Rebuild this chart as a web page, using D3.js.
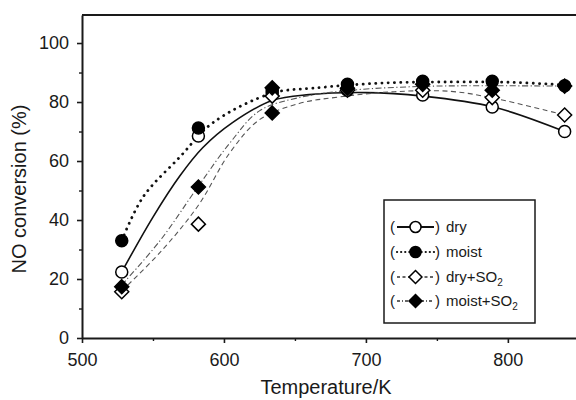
<!DOCTYPE html>
<html>
<head>
<meta charset="utf-8">
<script src="https://cdn.jsdelivr.net/npm/d3@7"></script>
<style>
  html, body { margin: 0; padding: 0; background: #fff; }
  svg { display: block; font-family: "Liberation Sans", Arial, Helvetica, sans-serif; }
</style>
</head>
<body>
<svg id="chart" width="576" height="400"></svg>
<script>
// ---------- data ----------
const temps = [528, 582, 634, 687, 740, 789, 840];
const dry = [22.4, 68.5, 83, 84, 82.4, 78.3, 70];
const moist = [33, 71.2, 84, 86, 87, 87, 85.5];
const drySO2 = [15.7, 38.6, 82, 84, 84, 81.5, 75.6];
const moistSO2 = [17.4, 51.2, 76.3, 84.7, 86, 84, 85.4];
// second filled diamond visible at 634 K
const moistSO2RepeatT = [634];
const moistSO2RepeatV = [84.8];

// fitted guide curves
const dryFitT = [528, 550, 569, 585, 606, 634, 660, 700, 740, 790, 840];
const dryFitV = [22.4, 41, 55, 64.5, 73, 80.5, 82.5, 83.2, 82, 78.3, 70];
const moistFitT = [528, 543, 569, 592, 634, 663, 710, 760, 800, 840];
const moistFitV = [33, 47.8, 61.4, 72.9, 83, 84.7, 86.4, 86.8, 86.7, 85.8];
const drySO2FitT = [528, 555, 582, 604, 625, 653, 681, 720, 760, 790, 840];
const drySO2FitV = [16, 29, 45, 62.7, 74, 79.5, 81.7, 83.5, 83.6, 81.3, 75.6];
const moistSO2FitT = [528, 555, 582, 604, 625, 653, 690, 740, 790, 840];
const moistSO2FitV = [18, 33, 51.5, 66, 77, 81.5, 84, 85.3, 85.5, 85.4];

const xMajor = [500, 600, 700, 800];
const xMinor = [550, 650, 750];
const yMajor = [0, 20, 40, 60, 80, 100];
const yMinor = [10, 30, 50, 70, 90];

const legendLabels = ["dry", "moist", "dry+SO", "moist+SO"];
const legendSub = ["", "", "2", "2"];

// ---------- drawing ----------
const svg = d3.select("#chart");
const mLeft = 82, mRight = 576, mTop = 15, mBottom = 338;

const x = d3.scaleLinear().domain([500, 848]).range([mLeft, mRight]);
const y = d3.scaleLinear().domain([0, 109.5]).range([mBottom, mTop]);

const ink = "#1a1a1a";

// frame: top line
svg.append("line")
  .attr("x1", mLeft).attr("x2", mRight).attr("y1", mTop).attr("y2", mTop)
  .attr("stroke", ink).attr("stroke-width", 2);

function styleAxis(g) {
  g.selectAll("path.domain").attr("stroke", ink).attr("stroke-width", 2);
  g.selectAll(".tick line").attr("stroke", ink).attr("stroke-width", 1.6);
  g.selectAll(".tick text").attr("fill", ink)
    .style("font-family", "'Liberation Sans', Arial, sans-serif");
}

const gx = svg.append("g").attr("transform", `translate(0,${mBottom})`)
  .call(d3.axisBottom(x).tickValues(xMajor).tickSize(5).tickPadding(10).tickSizeOuter(0))
  .call(g => g.selectAll(".tick text").attr("font-size", 18));
styleAxis(gx);
svg.append("g").attr("transform", `translate(0,${mBottom})`)
  .call(d3.axisBottom(x).tickValues(xMinor).tickSize(3).tickFormat("").tickSizeOuter(0))
  .call(g => g.select("path.domain").remove())
  .call(g => g.selectAll(".tick line").attr("stroke", ink).attr("stroke-width", 1.4));

const gy = svg.append("g").attr("transform", `translate(${mLeft},0)`)
  .call(d3.axisLeft(y).tickValues(yMajor).tickSize(5).tickPadding(8).tickSizeOuter(0))
  .call(g => g.selectAll(".tick text").attr("font-size", 18));
styleAxis(gy);
svg.append("g").attr("transform", `translate(${mLeft},0)`)
  .call(d3.axisLeft(y).tickValues(yMinor).tickSize(3).tickFormat("").tickSizeOuter(0))
  .call(g => g.select("path.domain").remove())
  .call(g => g.selectAll(".tick line").attr("stroke", ink).attr("stroke-width", 1.4));

// axis titles
svg.append("text")
  .attr("x", 326).attr("y", 394)
  .attr("text-anchor", "middle").attr("font-size", 20).attr("fill", ink)
  .text("Temperature/K");
svg.append("text")
  .attr("transform", "translate(26,189) rotate(-90)")
  .attr("text-anchor", "middle").attr("font-size", 20).attr("fill", ink)
  .text("NO conversion (%)");

// series styles
const styles = [
  { dash: null, width: 1.6, color: "#111", cap: "butt" },
  { dash: "0.1 6.2", width: 2.8, color: "#111", cap: "round" },
  { dash: "5 3.5", width: 1.1, color: "#555", cap: "butt" },
  { dash: "6 2.5 1.2 2.5", width: 1.1, color: "#555", cap: "butt" }
];

const fits = [
  [dryFitT, dryFitV], [moistFitT, moistFitV],
  [drySO2FitT, drySO2FitV], [moistSO2FitT, moistSO2FitV]
];

const line = d3.line()
  .x(d => x(d[0])).y(d => y(d[1]))
  .curve(d3.curveCatmullRom.alpha(0.5));

fits.forEach((f, i) => {
  const pts = f[0].map((t, k) => [t, f[1][k]]);
  svg.append("path")
    .attr("d", line(pts))
    .attr("fill", "none")
    .attr("stroke", styles[i].color)
    .attr("stroke-width", styles[i].width)
    .attr("stroke-linecap", styles[i].cap)
    .attr("stroke-dasharray", styles[i].dash);
});

function drawMarker(g, kind, cx, cy, scale) {
  const s = scale || 1;
  if (kind === 0 || kind === 1) {
    g.append("circle").attr("cx", cx).attr("cy", cy).attr("r", 6 * s)
      .attr("fill", kind === 1 ? "#000" : "#fff")
      .attr("stroke", "#000").attr("stroke-width", 1.5);
  } else {
    const r = 7 * s;
    g.append("path")
      .attr("d", `M${cx},${cy - r}L${cx + r},${cy}L${cx},${cy + r}L${cx - r},${cy}Z`)
      .attr("fill", kind === 3 ? "#000" : "#fff")
      .attr("stroke", "#000").attr("stroke-width", 1.5);
  }
}

const seriesVals = [dry, moist, drySO2, moistSO2];
const gm = svg.append("g");
seriesVals.forEach((vals, i) => {
  vals.forEach((v, k) => drawMarker(gm, i, x(temps[k]), y(v)));
});
moistSO2RepeatT.forEach((t, k) => drawMarker(gm, 3, x(t), y(moistSO2RepeatV[k])));

// legend
const lg = svg.append("g");
lg.append("rect")
  .attr("x", 384).attr("y", 200).attr("width", 151).attr("height", 123)
  .attr("fill", "#fff").attr("stroke", ink).attr("stroke-width", 1.5);

const rowY = [227, 252, 277, 301];
const legendDash = [null, "0.1 4", "3 2.5", "3 2 1 2"];
legendLabels.forEach((lab, i) => {
  const cy = rowY[i];
  lg.append("text").attr("x", 390).attr("y", cy + 5).attr("font-size", 15).attr("fill", ink).text("(");
  lg.append("line")
    .attr("x1", 397).attr("x2", 434).attr("y1", cy).attr("y2", cy)
    .attr("stroke", i < 2 ? "#111" : "#333")
    .attr("stroke-width", i === 1 ? 2.2 : (i === 0 ? 1.8 : 1.3))
    .attr("stroke-linecap", styles[i].cap)
    .attr("stroke-dasharray", legendDash[i]);
  drawMarker(lg, i, 415.5, cy, 0.92);
  lg.append("text").attr("x", 435).attr("y", cy + 5).attr("font-size", 15).attr("fill", ink).text(")");
  const t = lg.append("text").attr("x", 446).attr("y", cy + 5).attr("font-size", 15).attr("fill", ink);
  t.append("tspan").text(lab);
  if (legendSub[i]) {
    t.append("tspan").attr("font-size", 10).attr("dy", 4).text(legendSub[i]);
  }
});
</script>
</body>
</html>
